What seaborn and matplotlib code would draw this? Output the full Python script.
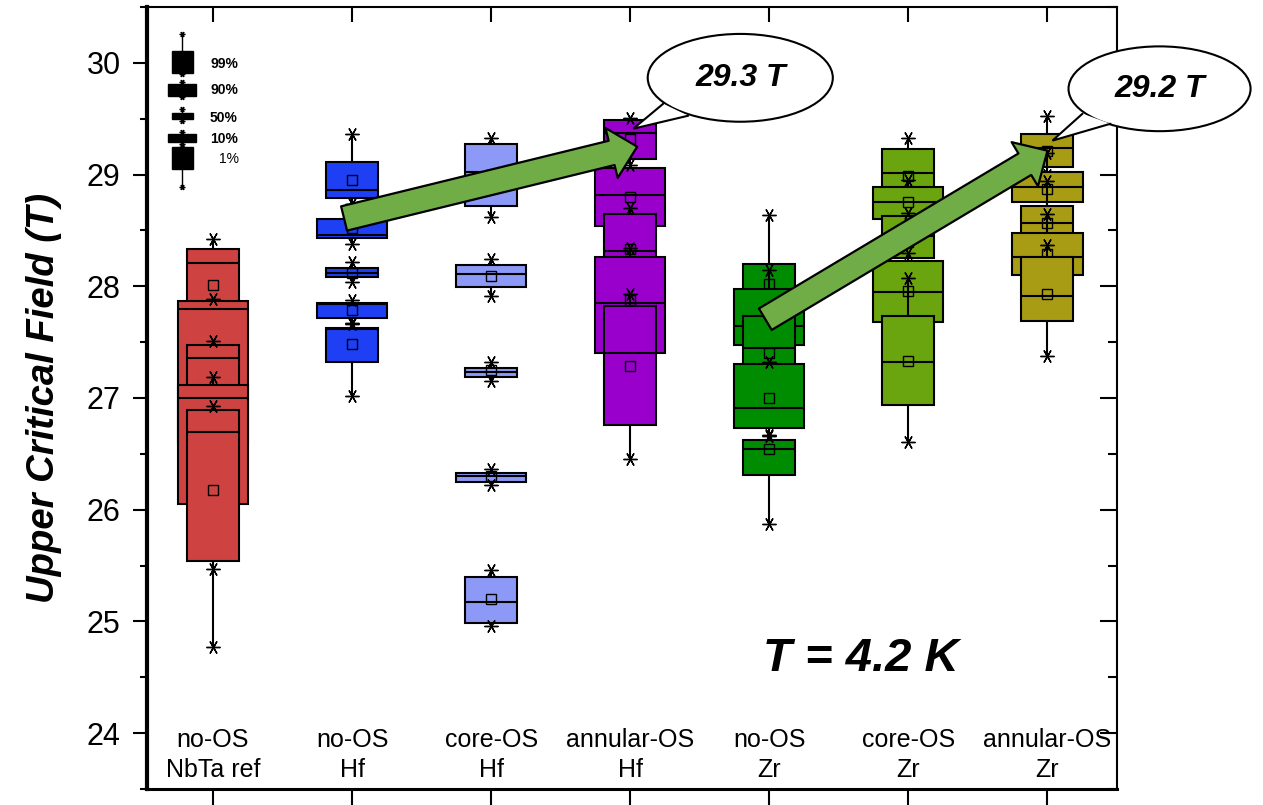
import matplotlib
matplotlib.use('Agg')
import matplotlib.pyplot as plt
import seaborn as sns
from matplotlib.patches import Ellipse, Polygon, FancyArrowPatch, ArrowStyle
from matplotlib.ticker import MultipleLocator

# ---------------- data ----------------
categories = ['no-OS\nNbTa ref', 'no-OS\nHf', 'core-OS\nHf', 'annular-OS\nHf',
              'no-OS\nZr', 'core-OS\nZr', 'annular-OS\nZr']
colors = ['#CF4242', '#1F3FF5', '#8C99F7', '#9900CC', '#008C00', '#6AA50F', '#A89C14']
levels = ['99%', '90%', '50%', '10%', '1%']

# rows = categories, columns = levels (99%, 90%, 50%, 10%, 1%)
whishi = [[28.42, 27.89, 27.51, 27.19, 26.93],
          [29.36, 28.64, 28.22, 27.88, 27.66],
          [29.33, 28.24, 27.32, 26.36, 25.46],
          [29.51, 29.09, 28.70, 28.34, 27.93],
          [28.64, 28.15, 27.76, 27.32, 26.66],
          [29.33, 28.95, 28.66, 28.30, 28.07],
          [29.52, 29.19, 28.94, 28.65, 28.37]]
q3 = [[28.33, 27.87, 27.47, 27.12, 26.89],
      [29.11, 28.60, 28.16, 27.85, 27.63],
      [29.27, 28.19, 27.27, 26.33, 25.40],
      [29.49, 29.06, 28.65, 28.26, 27.82],
      [28.20, 27.98, 27.73, 27.30, 26.62],
      [29.23, 28.89, 28.63, 28.23, 27.73],
      [29.36, 29.02, 28.72, 28.48, 28.26]]
med = [[28.21, 27.80, 27.36, 27.00, 26.70],
       [28.86, 28.46, 28.12, 27.84, 27.62],
       [29.02, 28.11, 27.23, 26.30, 25.17],
       [29.37, 28.82, 28.32, 27.85, 27.40],
       [27.90, 27.64, 27.45, 26.91, 26.54],
       [29.01, 28.75, 28.45, 27.95, 27.32],
       [29.24, 28.89, 28.57, 28.26, 27.91]]
q1 = [[27.60, 26.60, 27.00, 26.05, 25.54],
      [28.79, 28.43, 28.08, 27.72, 27.32],
      [28.72, 27.99, 27.19, 26.25, 24.99],
      [29.14, 28.54, 28.10, 27.40, 26.76],
      [27.70, 27.47, 27.20, 26.73, 26.31],
      [28.75, 28.60, 28.25, 27.68, 26.94],
      [29.07, 28.75, 28.40, 28.10, 27.69]]
whislo = [[27.40, 26.30, 26.90, 25.47, 24.77],
          [28.74, 28.38, 28.04, 27.67, 27.02],
          [28.62, 27.91, 27.15, 26.22, 24.96],
          [29.00, 28.40, 28.00, 27.20, 26.45],
          [27.60, 27.40, 27.10, 26.67, 25.87],
          [28.70, 28.50, 28.15, 27.50, 26.61],
          [29.00, 28.65, 28.30, 28.00, 27.38]]
mean = [[28.01, 27.30, 27.05, 26.50, 26.18],
        [28.95, 28.52, 28.12, 27.79, 27.48],
        [29.00, 28.09, 27.25, 26.30, 25.20],
        [29.32, 28.80, 28.33, 27.875, 27.29],
        [28.02, 27.60, 27.40, 27.00, 26.54],
        [28.99, 28.75, 28.40, 27.96, 27.33],
        [29.21, 28.87, 28.57, 28.29, 27.93]]

# legend icon values
leg_whishi = [30.26, 29.83, 29.59, 29.38, 29.25]
leg_q3 = [30.11, 29.815, 29.547, 29.363, 29.244]
leg_med = [30.01, 29.76, 29.52, 29.325, 29.15]
leg_q1 = [29.913, 29.705, 29.494, 29.288, 29.051]
leg_whislo = [29.90, 29.69, 29.48, 29.27, 28.89]

peak_labels = ['29.3 T', '29.2 T']
temp_label = 'T = 4.2 K'

# ---------------- style ----------------
sns.set_theme(style='ticks', rc={'axes.edgecolor': 'black', 'xtick.color': 'black',
                                 'ytick.color': 'black', 'text.color': 'black',
                                 'axes.labelcolor': 'black'})
plt.rcParams['font.family'] = ['Liberation Sans', 'DejaVu Sans']

fig = plt.figure(figsize=(12.63, 8.05), dpi=100)
ax = fig.add_axes([0.1164, 0.0199, 0.768, 0.9714])

widths = [0.374, 0.504, 0.374, 0.504, 0.374]
star = (6, 2, 90)

for g in range(len(categories)):
    for k in range(len(levels)):
        st = [dict(whislo=whislo[g][k], q1=q1[g][k], med=med[g][k], q3=q3[g][k],
                   whishi=whishi[g][k], mean=mean[g][k],
                   fliers=[whislo[g][k], whishi[g][k]])]
        ax.bxp(st, positions=[g + 1], widths=[widths[k]], patch_artist=True,
               showmeans=True, showcaps=False, showfliers=True, manage_ticks=False,
               zorder=2 + k,
               boxprops=dict(facecolor=colors[g], edgecolor='black', linewidth=1.5),
               medianprops=dict(color='black', linewidth=1.5),
               whiskerprops=dict(color='black', linewidth=1.5),
               flierprops=dict(marker=star, markersize=10, markeredgecolor='black',
                               markerfacecolor='black', markeredgewidth=1.0, linestyle='none'),
               meanprops=dict(marker='s', markersize=6.5, markerfacecolor='none',
                              markeredgecolor='black', markeredgewidth=1.0))

# legend icons
leg_x = 0.777
leg_w = [0.151, 0.201, 0.151, 0.201, 0.151]
for k in range(len(levels)):
    st = [dict(whislo=leg_whislo[k], q1=leg_q1[k], med=leg_med[k], q3=leg_q3[k],
               whishi=leg_whishi[k], fliers=[leg_whislo[k], leg_whishi[k]])]
    ax.bxp(st, positions=[leg_x], widths=[leg_w[k]], patch_artist=True,
           showmeans=False, showcaps=False, showfliers=True, manage_ticks=False,
           zorder=2,
           boxprops=dict(facecolor='black', edgecolor='black', linewidth=1.0),
           medianprops=dict(color='black', linewidth=1.0),
           whiskerprops=dict(color='black', linewidth=1.0),
           flierprops=dict(marker=star, markersize=4, markeredgecolor='black',
                           markeredgewidth=1.0, linestyle='none'))
leg_text_y = [29.99, 29.76, 29.51, 29.32, 29.14]
for k, lab in enumerate(levels):
    ax.text(0.978 if k < 4 else 1.04, leg_text_y[k], lab, fontsize=10,
            fontweight='bold' if k < 4 else 'normal', ha='left', va='center', zorder=3)

# arrows
arrow_style = ArrowStyle.Simple(head_length=19, head_width=37, tail_width=18)
for (p0, p1) in [((1.942, 28.607), (4.05, 29.25)), ((4.971, 27.705), (7.0, 29.214))]:
    ax.add_patch(FancyArrowPatch(p0, p1, arrowstyle=arrow_style, mutation_scale=1,
                                 facecolor='#70AD47', edgecolor='black', linewidth=1.6,
                                 shrinkA=0, shrinkB=0, zorder=10))

# callouts
callouts = [
    dict(c=(4.791, 29.866), w=1.331, h=0.786, b1=(4.237, 29.634), tip=(4.022, 29.411),
         b2=(4.417, 29.527), text=peak_labels[0]),
    dict(c=(7.806, 29.768), w=1.309, h=0.759, b1=(7.252, 29.545), tip=(7.036, 29.304),
         b2=(7.453, 29.455), text=peak_labels[1]),
]
for co in callouts:
    ax.add_patch(Ellipse(co['c'], co['w'], co['h'], facecolor='white', edgecolor='black',
                         linewidth=1.5, zorder=11, clip_on=False))
    ax.add_patch(Polygon([co['b1'], co['tip'], co['b2']], closed=True, facecolor='white',
                         edgecolor='none', zorder=12, clip_on=False))
    ax.plot([co['b1'][0], co['tip'][0], co['b2'][0]], [co['b1'][1], co['tip'][1], co['b2'][1]],
            color='black', linewidth=1.5, zorder=13, clip_on=False, solid_joinstyle='miter')
    ax.text(co['c'][0], co['c'][1], co['text'], fontsize=23, fontweight='bold',
            fontstyle='italic', ha='center', va='center', zorder=14, clip_on=False)

ax.text(5.655, 24.66, temp_label, fontsize=34, fontweight='bold', fontstyle='italic',
        ha='center', va='center', zorder=5)

# axes
ax.set_xlim(0.525, 7.5)
ax.set_ylim(23.5, 30.5)
ax.set_xticks(range(1, len(categories) + 1))
ax.set_xticklabels(categories, fontsize=18, linespacing=1.3)
ax.tick_params(axis='x', direction='out', length=12, width=1.5, pad=-56)
ax.yaxis.set_major_locator(MultipleLocator(1))
ax.yaxis.set_minor_locator(MultipleLocator(0.5))
ax.tick_params(axis='y', which='major', direction='out', length=10, width=1.5,
               labelsize=22, pad=9)
ax.tick_params(axis='y', which='minor', direction='out', length=5, width=1.5)
ax.set_ylabel('Upper Critical Field (T)', fontsize=27.5, fontweight='bold', fontstyle='italic')
ax.yaxis.set_label_coords(-0.088, 0.5)
ax.spines['left'].set_linewidth(3)
ax.spines['bottom'].set_linewidth(2.2)
ax.spines['top'].set_visible(False)
ax.spines['right'].set_visible(False)

secy = ax.secondary_yaxis('right')
secy.yaxis.set_major_locator(MultipleLocator(1))
secy.yaxis.set_minor_locator(MultipleLocator(0.5))
secy.tick_params(which='major', direction='in', length=12, width=1.5, labelright=False)
secy.tick_params(which='minor', direction='in', length=6.5, width=1.5)
secy.spines['right'].set_linewidth(1.5)

secx = ax.secondary_xaxis('top')
secx.set_xticks(range(1, len(categories) + 1))
secx.tick_params(direction='in', length=11, width=1.5, labeltop=False)
secx.spines['top'].set_linewidth(1.5)

fig.savefig('out.png', dpi=100)
